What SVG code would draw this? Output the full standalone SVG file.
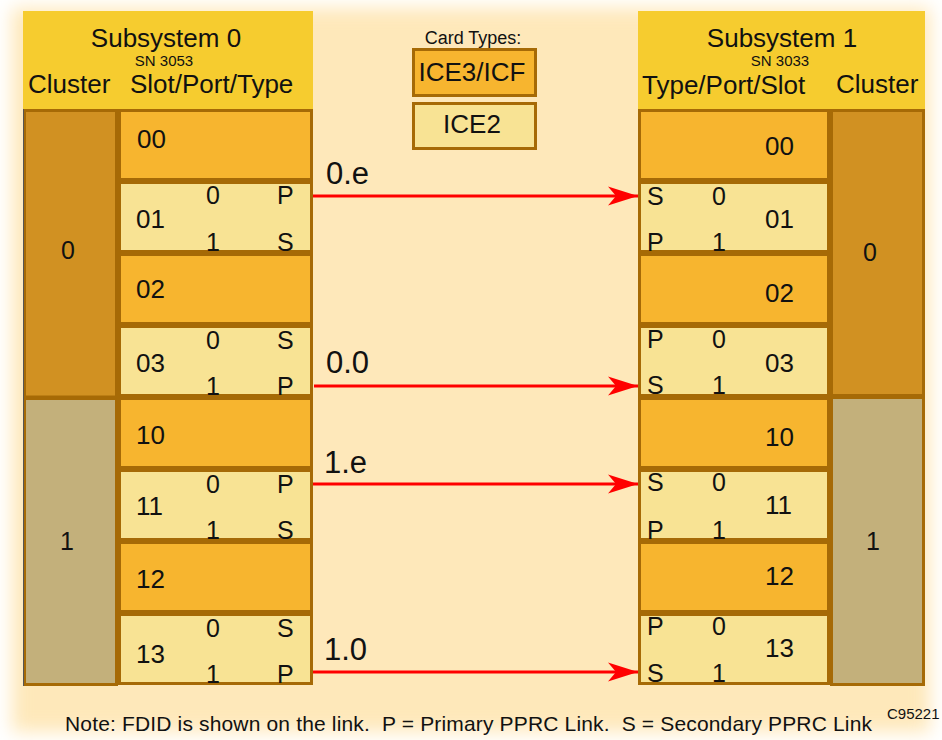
<svg xmlns="http://www.w3.org/2000/svg" width="942" height="740" viewBox="0 0 942 740">
<defs>
<filter id="soft" x="-5%" y="-5%" width="110%" height="110%"><feGaussianBlur stdDeviation="9"/></filter>
<marker id="ah" markerUnits="userSpaceOnUse" markerWidth="32" markerHeight="22" refX="30" refY="10" orient="auto">
<path d="M0,0.5 L30,10 L0,19.5 L8,10 Z" fill="#ff0000"/>
</marker>
<style>
text{font-family:"Liberation Sans",Arial,sans-serif;fill:#111;}
.hdr{fill:#f6cc2f;}
.c0{fill:#d19122;stroke:#a66a06;stroke-width:3;}
.c1{fill:#c3b07b;stroke:#a66a06;stroke-width:3;}
.ice3{fill:#f7b52f;stroke:#a66a06;stroke-width:3;}
.ice2{fill:#f8e394;stroke:#a66a06;stroke-width:3;}
.t26{font-size:26px;}
.t25{font-size:25px;}
.n{font-size:26px;}
.t15{font-size:15px;}
.mid{text-anchor:middle;}
.link{stroke:#ff0000;stroke-width:3;fill:none;marker-end:url(#ah);}
.lbl{font-size:31px;}
</style>
</defs>
<rect width="942" height="740" fill="#ffffff"/>
<rect x="12" y="8" width="918" height="724" fill="#fee8ba" filter="url(#soft)"/>

<g id="subsystem0-header">
<rect class="hdr" x="23" y="11" width="290" height="99"/>
<text class="t26 mid" x="166" y="47">Subsystem 0</text>
<text class="t15 mid" x="164" y="66">SN 3053</text>
<text class="t26" x="28" y="93">Cluster</text>
<text class="t26" x="130" y="93">Slot/Port/Type</text>
</g>
<g id="subsystem1-header">
<rect class="hdr" x="638" y="11" width="287" height="99"/>
<text class="t26 mid" x="782" y="47">Subsystem 1</text>
<text class="t15 mid" x="780" y="66">SN 3033</text>
<text class="t26" x="642" y="94">Type/Port/Slot</text>
<text class="t26" x="836" y="93">Cluster</text>
</g>

<g id="legend">
<text class="mid" style="font-size:18px" x="473" y="44">Card Types:</text>
<rect class="ice3" x="413.5" y="49.5" width="122" height="46"/>
<text class="t26 mid" x="472" y="81">ICE3/ICF</text>
<rect class="ice2" x="413.5" y="103.5" width="122" height="45"/>
<text class="t26 mid" x="472" y="133">ICE2</text>
</g>

<g id="s0-cluster0"><rect class="c0" x="24.5" y="110.5" width="92" height="286.5"/><text class="t25 mid" x="68" y="259">0</text></g>
<g id="s0-cluster1"><rect class="c1" x="24.5" y="398.5" width="92" height="286"/><text class="t25 mid" x="67" y="550">1</text></g>
<line x1="23.5" y1="109" x2="23.5" y2="686" stroke="#555" stroke-width="1"/>

<g id="s0-slot00"><rect class="ice3" x="119.5" y="110.5" width="192" height="69"/><text class="n" x="137" y="148">00</text></g>
<g id="s0-slot01"><rect class="ice2" x="119.5" y="182.5" width="192" height="69"/>
<text class="t25" x="206" y="204">0</text><text class="t25" x="277" y="204">P</text>
<text class="n" x="136" y="228">01</text>
<text class="t25" x="206" y="251">1</text><text class="t25" x="277" y="251">S</text></g>
<g id="s0-slot02"><rect class="ice3" x="119.5" y="254.5" width="192" height="69"/><text class="n" x="136" y="298">02</text></g>
<g id="s0-slot03"><rect class="ice2" x="119.5" y="326.5" width="192" height="69"/>
<text class="t25" x="206" y="349">0</text><text class="t25" x="277" y="349">S</text>
<text class="n" x="136" y="372">03</text>
<text class="t25" x="206" y="395">1</text><text class="t25" x="277" y="395">P</text></g>
<g id="s0-slot10"><rect class="ice3" x="119.5" y="398.5" width="192" height="69"/><text class="n" x="136" y="444">10</text></g>
<g id="s0-slot11"><rect class="ice2" x="119.5" y="470.5" width="192" height="69"/>
<text class="t25" x="206" y="493">0</text><text class="t25" x="277" y="493">P</text>
<text class="n" x="136" y="515">11</text>
<text class="t25" x="206" y="539">1</text><text class="t25" x="277" y="539">S</text></g>
<g id="s0-slot12"><rect class="ice3" x="119.5" y="542.5" width="192" height="69"/><text class="n" x="136" y="588">12</text></g>
<g id="s0-slot13"><rect class="ice2" x="119.5" y="614.5" width="192" height="69"/>
<text class="t25" x="206" y="637">0</text><text class="t25" x="277" y="637">S</text>
<text class="n" x="136" y="663">13</text>
<text class="t25" x="206" y="683">1</text><text class="t25" x="277" y="683">P</text></g>

<g id="s1-cluster0"><rect class="c0" x="831.5" y="110.5" width="92" height="285"/><text class="t25 mid" x="870" y="261">0</text></g>
<g id="s1-cluster1"><rect class="c1" x="831.5" y="397.5" width="92" height="287"/><text class="t25 mid" x="873" y="550">1</text></g>

<g id="s1-slot00"><rect class="ice3" x="639.5" y="110.5" width="189" height="69"/><text class="n" x="765" y="155">00</text></g>
<g id="s1-slot01"><rect class="ice2" x="639.5" y="182.5" width="189" height="69"/>
<text class="t25" x="647" y="205">S</text><text class="t25" x="712" y="205">0</text>
<text class="n" x="765" y="228">01</text>
<text class="t25" x="647" y="251">P</text><text class="t25" x="712" y="251">1</text></g>
<g id="s1-slot02"><rect class="ice3" x="639.5" y="254.5" width="189" height="69"/><text class="n" x="765" y="302">02</text></g>
<g id="s1-slot03"><rect class="ice2" x="639.5" y="326.5" width="189" height="69"/>
<text class="t25" x="647" y="348">P</text><text class="t25" x="712" y="348">0</text>
<text class="n" x="765" y="372">03</text>
<text class="t25" x="647" y="394">S</text><text class="t25" x="712" y="394">1</text></g>
<g id="s1-slot10"><rect class="ice3" x="639.5" y="398.5" width="189" height="69"/><text class="n" x="765" y="446">10</text></g>
<g id="s1-slot11"><rect class="ice2" x="639.5" y="470.5" width="189" height="69"/>
<text class="t25" x="647" y="491">S</text><text class="t25" x="712" y="491">0</text>
<text class="n" x="765" y="514">11</text>
<text class="t25" x="647" y="539">P</text><text class="t25" x="712" y="539">1</text></g>
<g id="s1-slot12"><rect class="ice3" x="639.5" y="542.5" width="189" height="69"/><text class="n" x="765" y="585">12</text></g>
<g id="s1-slot13"><rect class="ice2" x="639.5" y="614.5" width="189" height="69"/>
<text class="t25" x="647" y="635">P</text><text class="t25" x="712" y="635">0</text>
<text class="n" x="765" y="657">13</text>
<text class="t25" x="647" y="682">S</text><text class="t25" x="712" y="682">1</text></g>

<g id="links">
<line class="link" x1="313" y1="196" x2="638" y2="196"/>
<text class="lbl" x="326" y="184">0.e</text>
<line class="link" x1="314" y1="386" x2="638" y2="386"/>
<text class="lbl" x="326" y="373">0.0</text>
<line class="link" x1="313" y1="484" x2="638" y2="484"/>
<text class="lbl" x="324" y="473">1.e</text>
<line class="link" x1="313" y1="672" x2="638" y2="672"/>
<text class="lbl" x="324" y="660">1.0</text>
</g>

<text xml:space="preserve" style="font-size:21px;white-space:pre" x="65" y="731" textLength="807" lengthAdjust="spacing">Note: FDID is shown on the link.  P = Primary PPRC Link.  S = Secondary PPRC Link</text>
<text style="font-size:15px" x="887" y="719">C95221</text>
</svg>
